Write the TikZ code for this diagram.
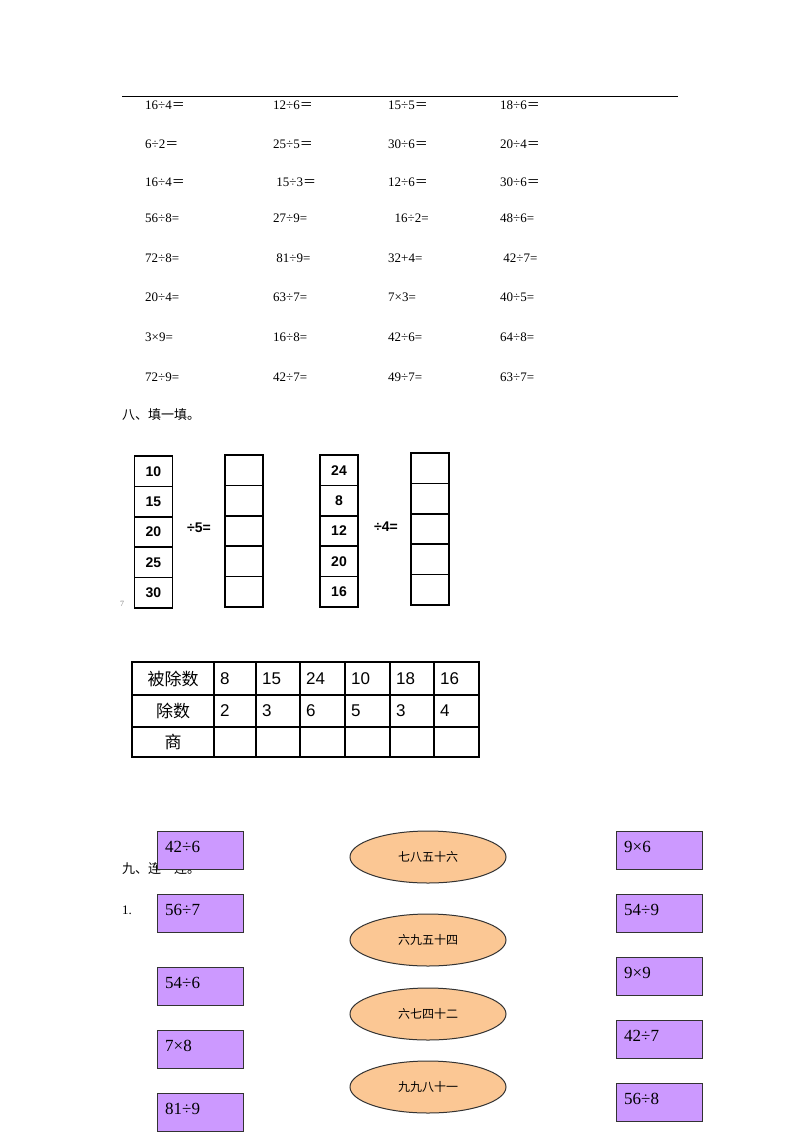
\documentclass[tikz,border=0pt]{standalone}
\usepackage{fontspec}
\setmainfont{Liberation Serif}
\newfontfamily\cjk{Noto Sans CJK SC}
\newfontfamily\sans{Liberation Sans}
\usetikzlibrary{shapes.geometric}
\newcommand\myrow[5]{%
 \node[t] at (145,#1) {#2};\node[t] at (273,#1) {#3};
 \node[t] at (388,#1) {#4};\node[t] at (500,#1) {#5};}
\newcommand\fw{{\cjk ＝}}
\begin{document}
\begin{tikzpicture}[x=1pt,y=-1pt,
 t/.style={anchor=west,inner sep=0,font=\fontsize{13}{13}\selectfont},
 cell/.style={draw,line width=1.6pt,minimum width=38pt,inner sep=0,font=\sans\bfseries\fontsize{14}{14}\selectfont},
 tb/.style={inner sep=0,font=\sans\fontsize{17}{17}\selectfont},
 pb/.style={draw=black!80,line width=1pt,fill={rgb,255:red,204;green,153;blue,255},minimum width=86pt,minimum height=38pt,inner sep=0},
 el/.style={ellipse,draw=black!80,line width=1pt,fill={rgb,255:red,251;green,199;blue,148},minimum width=156pt,minimum height=52pt,inner sep=0,font=\cjk\fontsize{12}{12}\selectfont}]
\useasboundingbox (0,0) rectangle (800,1132);
\draw[line width=1pt] (122,96) -- (678,96);
\myrow{105}{16÷4\fw}{12÷6\fw}{15÷5\fw}{18÷6\fw}
\myrow{144}{6÷2\fw}{25÷5\fw}{30÷6\fw}{20÷4\fw}
\myrow{182}{16÷4\fw}{\ 15÷3\fw}{12÷6\fw}{30÷6\fw}
\myrow{218}{56÷8=}{27÷9=}{\ \ 16÷2=}{48÷6=}
\myrow{258}{72÷8=}{\ 81÷9=}{32+4=}{\ 42÷7=}
\myrow{297}{20÷4=}{63÷7=}{7×3=}{40÷5=}
\myrow{337}{3×9=}{16÷8=}{42÷6=}{64÷8=}
\myrow{377}{72÷9=}{42÷7=}{49÷7=}{63÷7=}
\node[t,font=\cjk\fontsize{13}{13}\selectfont] (h8) at (122,415) {八、填一填。};
\foreach \v [count=\i] in {10,15,20,25,30}{
 \pgfmathsetmacro\yy{456+(\i-0.5)*30.4}
 \node[cell,minimum height=30.4pt] (a\i) at (153.5,\yy) {\v};
 \node[cell,minimum height=30.4pt] (b\i) at (244,\yy-1) {};
}
\node[inner sep=0,font=\sans\bfseries\fontsize{14}{14}\selectfont] (op1) at (199,528) {÷5=};
\foreach \v [count=\i] in {24,8,12,20,16}{
 \pgfmathsetmacro\yy{455+(\i-0.5)*30.4}
 \node[cell,minimum height=30.4pt] (c\i) at (339,\yy) {\v};
 \node[cell,minimum height=30.4pt] (d\i) at (430,\yy-2) {};
}
\node[inner sep=0,font=\sans\bfseries\fontsize{14}{14}\selectfont] (op2) at (386,527) {÷4=};
\node[inner sep=0,font=\fontsize{8}{8}\selectfont,gray] (sm) at (122,604) {7};
\draw[line width=1.8pt] (132,662) rectangle (479,757);
\foreach \x in {214,256,300,345,390,434} \draw[line width=1.2pt] (\x,662) -- (\x,757);
\foreach \y in {695,727} \draw[line width=1.2pt] (132,\y) -- (479,\y);
\node[tb,font=\cjk\fontsize{17}{17}\selectfont] (h1) at (173,679) {被除数};
\node[tb,font=\cjk\fontsize{17}{17}\selectfont] (h2) at (173,711) {除数};
\node[tb,font=\cjk\fontsize{17}{17}\selectfont] (h3) at (173,742) {商};
\foreach \x/\a/\b in {220/8/2,262/15/3,306/24/6,351/10/5,396/18/3,440/16/4}{
 \node[tb,anchor=west] at (\x,679) {\a};
 \node[tb,anchor=west] at (\x,711) {\b};
}
\node[t,font=\cjk\fontsize{13}{13}\selectfont] (h9) at (122,869) {九、连一连。};
\node[t] (n1) at (122,910) {1.};
\foreach \s/\y [count=\i] in {42÷6/850,56÷7/913,54÷6/986,7×8/1049,81÷9/1112}
 \node[pb] (L\i) at (200,\y) {};
\foreach \s/\y [count=\i] in {42÷6/850,56÷7/913,54÷6/986,7×8/1049,81÷9/1112}
 \node[t,font=\fontsize{17}{17}\selectfont] at (165,\y-3) {\s};
\foreach \s/\y [count=\i] in {9×6/850,54÷9/913,9×9/976,42÷7/1039,56÷8/1102}{
 \node[pb] (R\i) at (659.5,\y) {};
 \node[t,font=\fontsize{17}{17}\selectfont] at (624,\y-3) {\s};
}
\node[el] (e1) at (428,857) {七八五十六};
\node[el] (e2) at (428,940) {六九五十四};
\node[el] (e3) at (428,1014) {六七四十二};
\node[el] (e4) at (428,1087) {九九八十一};
\end{tikzpicture}
\end{document}
